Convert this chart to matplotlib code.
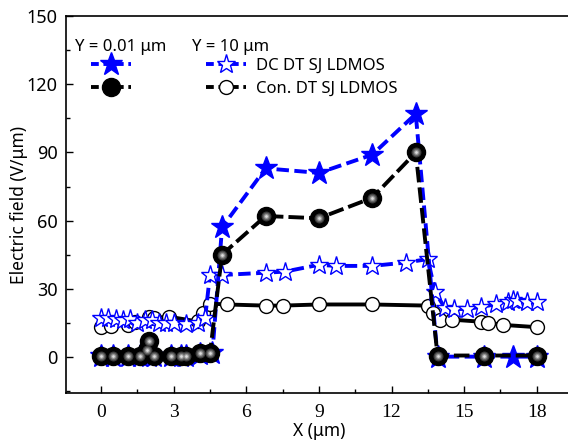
import matplotlib
matplotlib.use("Agg")
import matplotlib.pyplot as plt
from matplotlib.lines import Line2D
from matplotlib.ticker import MultipleLocator

# DC DT SJ LDMOS, Y = 0.01 um (filled stars)
dc_top_x = [0, 0.5, 1.1, 1.6, 2.0, 2.2, 2.9, 3.3, 3.5, 4.1, 4.6, 5.0, 6.8, 9.0, 11.2, 13.0, 13.9, 15.8, 17.0, 18.0]
dc_top_y = [0.5, 0.5, 0.5, 0.5, 0.5, 0.5, 0.5, 0.5, 0.5, 1.0, 1.5, 57, 83, 81, 89, 107, 0, 0, 0, 0]

# Con. DT SJ LDMOS, Y = 0.01 um (balls)
con_top_x = [0, 0.5, 1.1, 1.6, 1.9, 2.0, 2.2, 2.9, 3.3, 3.5, 4.1, 4.5, 5.0, 6.8, 9.0, 11.2, 13.0, 13.9, 15.8, 18.0]
con_top_y = [0.5, 0.5, 0.5, 0.5, 3, 7, 0.5, 0.5, 0.5, 0.5, 1.5, 1.5, 45, 62, 61, 70, 90, 0.5, 0.5, 0.5]

# DC DT SJ LDMOS, Y = 10 um (hollow stars)
dc_bot_x = [0, 0.3, 0.6, 0.9, 1.2, 1.5, 1.8, 2.1, 2.4, 2.7, 3.0, 3.5, 4.0, 4.3, 4.5, 5.0, 6.8, 7.6,
            9.0, 9.7, 11.2, 12.6, 13.5, 13.8, 14.2, 14.6, 15.1, 15.7, 16.3, 16.8, 17.0, 17.2, 17.6, 18.0]
dc_bot_y = [17, 17, 16.5, 16, 16.5, 15, 16, 16, 15, 15, 15, 14.5, 15, 17, 36, 36, 37, 37.5,
            40.5, 40, 40, 41.5, 43, 28.5, 21.5, 21, 21, 22, 23, 24, 25, 24.5, 24, 24]

# Con. DT SJ LDMOS, Y = 10 um (open circles)
con_bot_x = [0, 0.4, 1.1, 1.4, 2.0, 2.2, 2.8, 4.0, 4.2, 4.5, 5.2, 6.8, 7.5, 9.0, 11.2, 13.5,
             13.7, 14.0, 14.5, 15.7, 16.0, 16.6, 18.0]
con_bot_y = [13.2, 13.7, 14, 15.4, 17.6, 17, 17.6, 15.5, 19.4, 23.4, 23, 22.5, 22.5, 23, 23, 22.5,
             19.4, 16.3, 16.3, 15.4, 15, 14, 13]

blue = "#0000ff"
sans = "Noto Sans"

fig = plt.figure(figsize=(5.68, 4.43), dpi=100)
ax = fig.add_axes([0.116, 0.113, 0.893, 0.850])

dash = (3.2, 1.4)


def shade_balls(x, y, size):
    # fake the sphere look with grey rings of shrinking size
    for frac, col in [(0.55, "#3a3a3a"), (0.42, "#666666"), (0.28, "#999999"), (0.15, "#dddddd")]:
        ax.plot(x, y, ls="none", marker="o", ms=size * frac, mfc=col, mec="none", zorder=6)


# open circles, solid black
ax.plot(con_bot_x, con_bot_y, color="black", lw=2.8, marker="o", ms=10,
        mfc="white", mec="black", mew=1.0, zorder=2)
# hollow stars, dashed blue
ax.plot(dc_bot_x, dc_bot_y, color=blue, lw=2.8, dashes=dash, marker="*", ms=14,
        mfc="white", mec=blue, mew=1.0, zorder=3)
# filled stars, dashed blue
ax.plot(dc_top_x, dc_top_y, color=blue, lw=2.8, dashes=dash, marker="*", ms=17,
        mfc=blue, mec=blue, zorder=4)
# balls, dashed black
ax.plot(con_top_x, con_top_y, color="black", lw=2.8, dashes=(4, 1.3), marker="o", ms=13,
        mfc="black", mec="black", zorder=5)
shade_balls(con_top_x, con_top_y, 13)

ax.set_xlim(-1.45, 19.5)
ax.set_ylim(-16, 150)
ax.xaxis.set_major_locator(MultipleLocator(3))
ax.xaxis.set_minor_locator(MultipleLocator(1.5))
ax.yaxis.set_major_locator(MultipleLocator(30))
ax.yaxis.set_minor_locator(MultipleLocator(15))
ax.tick_params(which="both", direction="in", top=False, right=False, width=1.0)
ax.tick_params(which="major", length=5)
ax.tick_params(which="minor", length=3)
ax.tick_params(axis="x", pad=8)
ax.tick_params(axis="y", pad=6)
for lab in ax.get_xticklabels():
    lab.set_fontfamily("Liberation Serif")
    lab.set_fontsize(14)
for lab in ax.get_yticklabels():
    lab.set_fontfamily(sans)
    lab.set_fontsize(13)
for sp in ax.spines.values():
    sp.set_linewidth(1.2)

ax.set_xlabel("X (μm)", fontfamily=sans, fontsize=12.5, labelpad=1)
ax.set_ylabel("Electric field (V/μm)", fontfamily=sans, fontsize=12.5, labelpad=-1)

# legend: two columns of markers, headings above
h_dc_top = Line2D([], [], color=blue, lw=2.8, dashes=(2, 1.2), marker="*", ms=17, mfc=blue, mec=blue)
h_con_top = Line2D([], [], color="black", lw=2.8, dashes=(2, 1.2), marker="o", ms=13, mfc="black", mec="black")
h_dc_bot = Line2D([], [], color=blue, lw=2.8, dashes=(2, 1.2), marker="*", ms=14, mfc="white", mec=blue)
h_con_bot = Line2D([], [], color="black", lw=2.8, dashes=(2, 1.2), marker="o", ms=10, mfc="white", mec="black")
leg = ax.legend([h_dc_top, h_con_top, h_dc_bot, h_con_bot],
                ["", "", "DC DT SJ LDMOS", "Con. DT SJ LDMOS"],
                ncol=2, loc="upper left", bbox_to_anchor=(0.02, 0.931), frameon=False,
                handlelength=2.4, handletextpad=0.6, columnspacing=3.9, labelspacing=0.45,
                borderpad=0.4, prop={"family": sans, "size": 12})
ax.text(0.018, 0.918, "Y = 0.01 μm", transform=ax.transAxes, fontfamily=sans, fontsize=12, va="center")
ax.text(0.249, 0.918, "Y = 10 μm", transform=ax.transAxes, fontfamily=sans, fontsize=12, va="center")

fig.savefig("out.png", dpi=100)
